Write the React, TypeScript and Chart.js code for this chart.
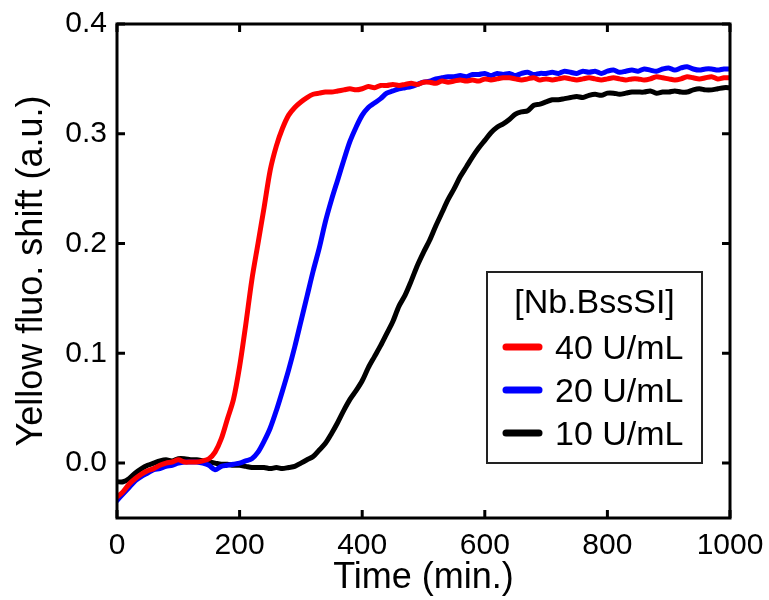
import React, { useEffect, useRef } from "react";
import { Chart, registerables } from "chart.js";

Chart.register(...registerables);

const times = [
  0, 10, 20, 30, 40, 50, 60, 70, 80, 90,
  100, 110, 120, 130, 140, 150, 160, 170, 180, 190,
  200, 210, 220, 230, 240, 250, 260, 270, 280, 290,
  300, 310, 320, 330, 340, 350, 360, 370, 380, 390,
  400, 410, 420, 430, 440, 450, 460, 470, 480, 490,
  500, 510, 520, 530, 540, 550, 560, 570, 580, 590,
  600, 610, 620, 630, 640, 650, 660, 670, 680, 690,
  700, 710, 720, 730, 740, 750, 760, 770, 780, 790,
  800, 810, 820, 830, 840, 850, 860, 870, 880, 890,
  900, 910, 920, 930, 940, 950, 960, 970, 980, 990,
  1000,
];

const red40 = [
  -0.031, -0.026, -0.019, -0.014, -0.010, -0.007, -0.005, -0.002, 0.000, 0.001,
  0.003, 0.001, 0.001, 0.001, 0.002, 0.004, 0.010, 0.022, 0.040, 0.058,
  0.088, 0.126, 0.167, 0.200, 0.233, 0.267, 0.289, 0.305, 0.317, 0.324,
  0.329, 0.333, 0.336, 0.337, 0.338, 0.338, 0.339, 0.340, 0.341, 0.340,
  0.341, 0.343, 0.342, 0.344, 0.344, 0.345, 0.344, 0.345, 0.346, 0.345,
  0.347, 0.347, 0.346, 0.348, 0.347, 0.348, 0.349, 0.348, 0.349, 0.348,
  0.350, 0.349, 0.350, 0.351, 0.351, 0.350, 0.349, 0.350, 0.351, 0.349,
  0.350, 0.349, 0.350, 0.351, 0.350, 0.349, 0.350, 0.351, 0.350, 0.349,
  0.350, 0.351, 0.350, 0.349, 0.350, 0.350, 0.349, 0.350, 0.352, 0.351,
  0.350, 0.349, 0.350, 0.352, 0.351, 0.350, 0.351, 0.352, 0.350, 0.351,
  0.351,
];

const blue20 = [
  -0.034, -0.028, -0.022, -0.016, -0.012, -0.009, -0.006, -0.005, -0.003, -0.002,
  0.000, 0.001, 0.001, 0.001, 0.000, -0.002, -0.006, -0.003, -0.002, -0.001,
  0.000, 0.002, 0.004, 0.010, 0.020, 0.032, 0.048, 0.066, 0.085, 0.106,
  0.129, 0.152, 0.175, 0.196, 0.220, 0.240, 0.258, 0.276, 0.293, 0.306,
  0.317, 0.324, 0.328, 0.332, 0.337, 0.339, 0.341, 0.342, 0.343, 0.345,
  0.347, 0.348, 0.350, 0.351, 0.352, 0.352, 0.353, 0.352, 0.354, 0.354,
  0.355, 0.353, 0.355, 0.354, 0.355, 0.353, 0.355, 0.356, 0.354, 0.355,
  0.355, 0.356, 0.355, 0.357, 0.356, 0.355, 0.357, 0.356, 0.357, 0.355,
  0.357, 0.358, 0.356, 0.357, 0.358, 0.357, 0.359, 0.358, 0.357, 0.359,
  0.360, 0.358, 0.360, 0.361, 0.359, 0.358, 0.359, 0.359, 0.358, 0.359,
  0.359,
];

const black10 = [
  -0.017, -0.017, -0.014, -0.009, -0.005, -0.002, 0.000, 0.002, 0.003, 0.002,
  0.004, 0.004, 0.003, 0.003, 0.002, 0.001, 0.000, -0.001, -0.001, -0.002,
  -0.002, -0.003, -0.004, -0.004, -0.004, -0.005, -0.004, -0.005, -0.004, -0.003,
  0.000, 0.003, 0.006, 0.012, 0.018, 0.027, 0.037, 0.048, 0.058, 0.066,
  0.075, 0.087, 0.097, 0.107, 0.118, 0.129, 0.143, 0.153, 0.166, 0.180,
  0.192, 0.203, 0.216, 0.228, 0.240, 0.250, 0.261, 0.270, 0.279, 0.287,
  0.294, 0.301, 0.306, 0.309, 0.313, 0.318, 0.320, 0.321, 0.326, 0.327,
  0.329, 0.331, 0.331, 0.332, 0.333, 0.334, 0.333, 0.335, 0.336, 0.335,
  0.337, 0.337, 0.336, 0.337, 0.338, 0.338, 0.338, 0.339, 0.337, 0.338,
  0.338, 0.339, 0.338, 0.338, 0.340, 0.341, 0.340, 0.340, 0.341, 0.342,
  0.342,
];

const seriesLabels = ["40 U/mL", "20 U/mL", "10 U/mL"];
const seriesColors = ["#ff0000", "#0000ff", "#000000"];
const legendTitle = "[Nb.BssSI]";
const xTickValues = [0, 200, 400, 600, 800, 1000];
const yTickValues = [0.0, 0.1, 0.2, 0.3, 0.4];
const xTitle = "Time (min.)";
const yTitle = "Yellow fluo. shift (a.u.)";

const FONT = "'Liberation Sans', Arial, Helvetica, sans-serif";

const framePlugin = {
  id: "frameAndLegend",
  afterDatasetsDraw(chart: any) {
    const { ctx, chartArea: a, scales } = chart;
    ctx.save();
    ctx.strokeStyle = "#000";
    ctx.lineWidth = 3;
    ctx.lineCap = "butt";
    ctx.strokeRect(a.left, a.top, a.right - a.left, a.bottom - a.top);
    const tl = 8;
    ctx.beginPath();
    for (const v of xTickValues) {
      const x = scales.x.getPixelForValue(v);
      ctx.moveTo(x, a.bottom);
      ctx.lineTo(x, a.bottom - tl);
      ctx.moveTo(x, a.top);
      ctx.lineTo(x, a.top + tl);
    }
    for (const v of yTickValues) {
      const y = scales.y.getPixelForValue(v);
      ctx.moveTo(a.left, y);
      ctx.lineTo(a.left + tl, y);
      ctx.moveTo(a.right, y);
      ctx.lineTo(a.right - tl, y);
    }
    ctx.stroke();

    // legend box
    const L = 487, T = 272, R = 702, B = 463;
    ctx.fillStyle = "#fff";
    ctx.fillRect(L, T, R - L, B - T);
    ctx.lineWidth = 2;
    ctx.strokeStyle = "#222";
    ctx.strokeRect(L, T, R - L, B - T);
    ctx.fillStyle = "#000";
    ctx.font = `34px ${FONT}`;
    ctx.textBaseline = "alphabetic";
    ctx.textAlign = "center";
    ctx.fillText(legendTitle, (L + R) / 2, 313);
    ctx.textAlign = "left";
    const rowY = [347, 390, 433];
    chart.data.datasets.forEach((ds: any, i: number) => {
      const y = rowY[i];
      ctx.strokeStyle = ds.borderColor;
      ctx.lineWidth = 7;
      ctx.lineCap = "round";
      ctx.beginPath();
      ctx.moveTo(506, y);
      ctx.lineTo(539, y);
      ctx.stroke();
      ctx.fillStyle = "#000";
      ctx.fillText(ds.label, 555, y + 12);
    });
    ctx.restore();
  },
};

export default function App() {
  const ref = useRef<HTMLCanvasElement | null>(null);

  useEffect(() => {
    if (!ref.current) return;
    const allSeries = [red40, blue20, black10];
    const chart = new Chart(ref.current, {
      type: "line",
      data: {
        datasets: allSeries.map((s, i) => ({
          label: seriesLabels[i],
          data: times.map((t, j) => ({ x: t, y: s[j] })),
          borderColor: seriesColors[i],
          backgroundColor: seriesColors[i],
          borderWidth: 5,
          pointRadius: 0,
          tension: 0.3,
          fill: false,
          borderCapStyle: "round",
          borderJoinStyle: "round",
        })),
      },
      options: {
        responsive: false,
        animation: false,
        devicePixelRatio: 1,
        layout: { padding: { top: 24, right: 39, left: 0, bottom: 0 } },
        plugins: {
          legend: { display: false },
          tooltip: { enabled: false },
        },
        scales: {
          x: {
            type: "linear",
            min: 0,
            max: 1000,
            afterBuildTicks: (s: any) => {
              s.ticks = xTickValues.map((v) => ({ value: v }));
            },
            afterFit: (s: any) => {
              s.height = 82;
              s.paddingLeft = 0;
              s.paddingRight = 0;
            },
            grid: { display: false, drawTicks: false, tickLength: 0 },
            border: { display: false },
            ticks: {
              color: "#000",
              font: { family: FONT, size: 30 },
              padding: 10,
              maxRotation: 0,
              autoSkip: false,
              callback: (v: any) => String(v),
            },
            title: {
              display: true,
              text: xTitle,
              color: "#000",
              font: { family: FONT, size: 36 },
              padding: { top: 0, bottom: 0 },
            },
          },
          y: {
            type: "linear",
            min: -0.05,
            max: 0.4,
            afterBuildTicks: (s: any) => {
              s.ticks = yTickValues.map((v) => ({ value: v }));
            },
            afterFit: (s: any) => {
              s.width = 117;
              s.paddingTop = 0;
              s.paddingBottom = 0;
            },
            grid: { display: false, drawTicks: false, tickLength: 0 },
            border: { display: false },
            ticks: {
              color: "#000",
              font: { family: FONT, size: 30 },
              padding: 10,
              callback: (v: any) => Number(v).toFixed(1),
            },
            title: {
              display: true,
              text: yTitle,
              color: "#000",
              font: { family: FONT, size: 36 },
              padding: { top: 10, bottom: 0 },
            },
          },
        },
      },
      plugins: [framePlugin],
    });
    return () => chart.destroy();
  }, []);

  return (
    <div style={{ position: "fixed", left: 0, top: 0, width: 769, height: 600, background: "#fff" }}>
      <canvas ref={ref} width={769} height={600} style={{ display: "block" }} />
    </div>
  );
}
